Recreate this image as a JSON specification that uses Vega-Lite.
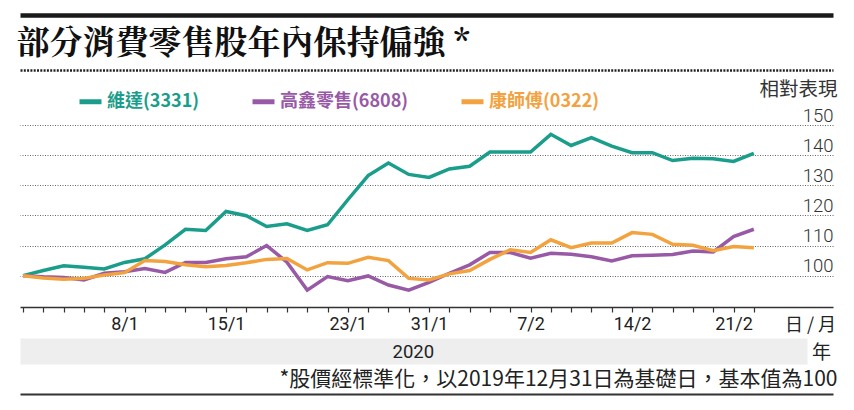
{
  "$schema": "https://vega.github.io/schema/vega-lite/v6.json",
  "width": 813,
  "height": 182,
  "autosize": "none",
  "padding": {"left": 20, "top": 125, "right": 21, "bottom": 103},
  "background": "white",
  "config": {"view": {"stroke": null}, "font": "Noto Sans CJK TC"},
  "data": {"values": [
    {"s":"維達(3331)","i":0,"d":"31/12","v":100},{"s":"維達(3331)","i":1,"d":"2/1","v":101.7},{"s":"維達(3331)","i":2,"d":"3/1","v":103.3},{"s":"維達(3331)","i":3,"d":"6/1","v":102.8},{"s":"維達(3331)","i":4,"d":"7/1","v":102.2},{"s":"維達(3331)","i":5,"d":"8/1","v":104.4},{"s":"維達(3331)","i":6,"d":"9/1","v":105.6},{"s":"維達(3331)","i":7,"d":"10/1","v":110.2},{"s":"維達(3331)","i":8,"d":"13/1","v":115.4},{"s":"維達(3331)","i":9,"d":"14/1","v":115.0},{"s":"維達(3331)","i":10,"d":"15/1","v":121.3},{"s":"維達(3331)","i":11,"d":"16/1","v":119.9},{"s":"維達(3331)","i":12,"d":"17/1","v":116.3},{"s":"維達(3331)","i":13,"d":"20/1","v":117.2},{"s":"維達(3331)","i":14,"d":"21/1","v":115.0},{"s":"維達(3331)","i":15,"d":"22/1","v":116.9},{"s":"維達(3331)","i":16,"d":"23/1","v":125.2},{"s":"維達(3331)","i":17,"d":"24/1","v":133.2},{"s":"維達(3331)","i":18,"d":"29/1","v":137.4},{"s":"維達(3331)","i":19,"d":"30/1","v":133.6},{"s":"維達(3331)","i":20,"d":"31/1","v":132.6},{"s":"維達(3331)","i":21,"d":"3/2","v":135.4},{"s":"維達(3331)","i":22,"d":"4/2","v":136.3},{"s":"維達(3331)","i":23,"d":"5/2","v":141.0},{"s":"維達(3331)","i":24,"d":"6/2","v":141.0},{"s":"維達(3331)","i":25,"d":"7/2","v":141.0},{"s":"維達(3331)","i":26,"d":"10/2","v":146.9},{"s":"維達(3331)","i":27,"d":"11/2","v":143.2},{"s":"維達(3331)","i":28,"d":"12/2","v":145.8},{"s":"維達(3331)","i":29,"d":"13/2","v":143.0},{"s":"維達(3331)","i":30,"d":"14/2","v":140.8},{"s":"維達(3331)","i":31,"d":"17/2","v":140.8},{"s":"維達(3331)","i":32,"d":"18/2","v":138.2},{"s":"維達(3331)","i":33,"d":"19/2","v":139.0},{"s":"維達(3331)","i":34,"d":"20/2","v":138.8},{"s":"維達(3331)","i":35,"d":"21/2","v":137.9},{"s":"維達(3331)","i":36,"d":"24/2","v":140.6},
    {"s":"高鑫零售(6808)","i":0,"d":"31/12","v":100},{"s":"高鑫零售(6808)","i":1,"d":"2/1","v":99.6},{"s":"高鑫零售(6808)","i":2,"d":"3/1","v":99.4},{"s":"高鑫零售(6808)","i":3,"d":"6/1","v":98.6},{"s":"高鑫零售(6808)","i":4,"d":"7/1","v":100.8},{"s":"高鑫零售(6808)","i":5,"d":"8/1","v":101.3},{"s":"高鑫零售(6808)","i":6,"d":"9/1","v":102.4},{"s":"高鑫零售(6808)","i":7,"d":"10/1","v":101.1},{"s":"高鑫零售(6808)","i":8,"d":"13/1","v":104.4},{"s":"高鑫零售(6808)","i":9,"d":"14/1","v":104.4},{"s":"高鑫零售(6808)","i":10,"d":"15/1","v":105.6},{"s":"高鑫零售(6808)","i":11,"d":"16/1","v":106.3},{"s":"高鑫零售(6808)","i":12,"d":"17/1","v":110.0},{"s":"高鑫零售(6808)","i":13,"d":"20/1","v":104.5},{"s":"高鑫零售(6808)","i":14,"d":"21/1","v":95.2},{"s":"高鑫零售(6808)","i":15,"d":"22/1","v":99.7},{"s":"高鑫零售(6808)","i":16,"d":"23/1","v":98.3},{"s":"高鑫零售(6808)","i":17,"d":"24/1","v":99.9},{"s":"高鑫零售(6808)","i":18,"d":"29/1","v":96.9},{"s":"高鑫零售(6808)","i":19,"d":"30/1","v":95.2},{"s":"高鑫零售(6808)","i":20,"d":"31/1","v":97.8},{"s":"高鑫零售(6808)","i":21,"d":"3/2","v":100.8},{"s":"高鑫零售(6808)","i":22,"d":"4/2","v":103.6},{"s":"高鑫零售(6808)","i":23,"d":"5/2","v":107.7},{"s":"高鑫零售(6808)","i":24,"d":"6/2","v":107.7},{"s":"高鑫零售(6808)","i":25,"d":"7/2","v":105.8},{"s":"高鑫零售(6808)","i":26,"d":"10/2","v":107.4},{"s":"高鑫零售(6808)","i":27,"d":"11/2","v":107.1},{"s":"高鑫零售(6808)","i":28,"d":"12/2","v":106.3},{"s":"高鑫零售(6808)","i":29,"d":"13/2","v":104.9},{"s":"高鑫零售(6808)","i":30,"d":"14/2","v":106.6},{"s":"高鑫零售(6808)","i":31,"d":"17/2","v":106.8},{"s":"高鑫零售(6808)","i":32,"d":"18/2","v":107.0},{"s":"高鑫零售(6808)","i":33,"d":"19/2","v":108.2},{"s":"高鑫零售(6808)","i":34,"d":"20/2","v":107.9},{"s":"高鑫零售(6808)","i":35,"d":"21/2","v":113.0},{"s":"高鑫零售(6808)","i":36,"d":"24/2","v":115.4},
    {"s":"康師傅(0322)","i":0,"d":"31/12","v":100},{"s":"康師傅(0322)","i":1,"d":"2/1","v":99.2},{"s":"康師傅(0322)","i":2,"d":"3/1","v":98.8},{"s":"康師傅(0322)","i":3,"d":"6/1","v":99.1},{"s":"康師傅(0322)","i":4,"d":"7/1","v":100.2},{"s":"康師傅(0322)","i":5,"d":"8/1","v":101.0},{"s":"康師傅(0322)","i":6,"d":"9/1","v":105.0},{"s":"康師傅(0322)","i":7,"d":"10/1","v":104.7},{"s":"康師傅(0322)","i":8,"d":"13/1","v":103.6},{"s":"康師傅(0322)","i":9,"d":"14/1","v":103.0},{"s":"康師傅(0322)","i":10,"d":"15/1","v":103.4},{"s":"康師傅(0322)","i":11,"d":"16/1","v":104.3},{"s":"康師傅(0322)","i":12,"d":"17/1","v":105.4},{"s":"康師傅(0322)","i":13,"d":"20/1","v":105.7},{"s":"康師傅(0322)","i":14,"d":"21/1","v":101.9},{"s":"康師傅(0322)","i":15,"d":"22/1","v":104.3},{"s":"康師傅(0322)","i":16,"d":"23/1","v":104.1},{"s":"康師傅(0322)","i":17,"d":"24/1","v":106.1},{"s":"康師傅(0322)","i":18,"d":"29/1","v":105.0},{"s":"康師傅(0322)","i":19,"d":"30/1","v":99.1},{"s":"康師傅(0322)","i":20,"d":"31/1","v":98.6},{"s":"康師傅(0322)","i":21,"d":"3/2","v":100.6},{"s":"康師傅(0322)","i":22,"d":"4/2","v":101.7},{"s":"康師傅(0322)","i":23,"d":"5/2","v":105.4},{"s":"康師傅(0322)","i":24,"d":"6/2","v":108.6},{"s":"康師傅(0322)","i":25,"d":"7/2","v":107.7},{"s":"康師傅(0322)","i":26,"d":"10/2","v":111.9},{"s":"康師傅(0322)","i":27,"d":"11/2","v":109.3},{"s":"康師傅(0322)","i":28,"d":"12/2","v":110.8},{"s":"康師傅(0322)","i":29,"d":"13/2","v":110.8},{"s":"康師傅(0322)","i":30,"d":"14/2","v":114.3},{"s":"康師傅(0322)","i":31,"d":"17/2","v":113.7},{"s":"康師傅(0322)","i":32,"d":"18/2","v":110.4},{"s":"康師傅(0322)","i":33,"d":"19/2","v":110.1},{"s":"康師傅(0322)","i":34,"d":"20/2","v":108.3},{"s":"康師傅(0322)","i":35,"d":"21/2","v":109.7},{"s":"康師傅(0322)","i":36,"d":"24/2","v":109.3}
  ]},
  "resolve": {"axis": {"x": "independent"}},
  "layer": [
    {
      "mark": {"type": "point", "opacity": 0},
      "encoding": {
        "x": {"field": "i", "type": "quantitative",
          "axis": {"orient": "bottom", "offset": 44, "domainWidth": 26, "domainColor": "#eeeeee", "domainCap": "butt", "domainDash": [787, 300], "ticks": false, "labels": false, "grid": false, "title": null, "zindex": 0}}
      }
    },
    {
      "mark": {"type": "line", "strokeWidth": 3.5},
      "encoding": {
        "x": {"field": "i", "type": "quantitative",
          "scale": {"domain": [-0.15, 39.9], "nice": false, "zero": false},
          "axis": {"orient": "bottom", "values": [0,1,2,3,4,5,6,7,8,9,10,11,12,13,14,15,16,17,18,19,20,21,22,23,24,25,26,27,28,29,30,31,32,33,34,35,36],
            "labelExpr": "datum.value==5?'8/1':datum.value==10?'15/1':datum.value==16?'23/1':datum.value==20?'31/1':datum.value==25?'7/2':datum.value==30?'14/2':datum.value==35?'21/2':''",
            "labelFont": "Roboto", "labelFontSize": 18, "labelColor": "#222", "labelPadding": 3, "labelOverlap": false, "labelFlush": false,
            "tickSize": 5, "tickColor": "#333", "tickWidth": 1.2, "domainColor": "#333", "domainWidth": 1.5, "grid": false,
            "title": "日 / 月", "titleX": 790, "titleY": 18, "titleBaseline": "middle", "titleAlign": "center", "titleFontSize": 18, "titleFontWeight": "normal", "titleColor": "#222"}},
        "y": {"field": "v", "type": "quantitative",
          "scale": {"domain": [89.6, 150], "nice": false, "zero": false},
          "axis": {"orient": "right", "values": [100,110,120,130,140,150], "grid": true, "gridColor": "#666", "gridDash": [1, 1.5], "gridWidth": 1,
            "domain": false, "ticks": false, "tickSize": 0, "labelAlign": "right", "labelBaseline": "alphabetic", "labelPadding": 0, "labelOffset": -4,
            "labelFont": "Roboto", "labelFontWeight": 300, "labelFontSize": 18.5, "labelColor": "#333",
            "title": "相對表現", "titleAngle": 0, "titleAlign": "right", "titleBaseline": "middle", "titleX": 4, "titleY": -36, "titleFontSize": 19.5, "titleFontWeight": "normal", "titleColor": "#333"}},
        "color": {"field": "s", "type": "nominal",
          "scale": {"domain": ["維達(3331)", "高鑫零售(6808)", "康師傅(0322)"], "range": ["#1a9e8b", "#985aa6", "#f2a23e"]},
          "legend": {"orient": "none", "legendX": 57, "legendY": -37, "direction": "horizontal", "title": null,
            "symbolType": "stroke", "symbolSize": 484, "symbolStrokeWidth": 5, "labelFont": "Noto Sans CJK TC", "labelFontSize": 18, "labelFontWeight": "bold",
            "labelOffset": 3, "columnPadding": 42, "padding": 0, "labelLimit": 300,
            "encode": {"labels": {"update": {"fill": {"scale": "color", "field": "value"}}}}}}
      }
    },
    {
      "mark": {"type": "point", "opacity": 0},
      "encoding": {
        "x": {"field": "i", "type": "quantitative",
          "axis": {"orient": "bottom", "offset": 44, "domain": false, "ticks": false, "tickSize": 0, "grid": false, "zindex": 2,
            "values": [19.2], "labelExpr": "'2020'", "labelBaseline": "middle", "labelPadding": 0, "labelFont": "Roboto", "labelFontSize": 18.5, "labelColor": "#222", "labelFlush": false,
            "title": "年", "titleX": 801, "titleY": 1, "titleAlign": "center", "titleBaseline": "middle", "titleFontSize": 19, "titleFontWeight": "normal", "titleColor": "#222"}}
      }
    },
    {
      "mark": {"type": "point", "opacity": 0},
      "encoding": {
        "x": {"field": "i", "type": "quantitative",
          "axis": {"orient": "top", "offset": 110, "domainWidth": 4.5, "domainColor": "#1a1a1a", "ticks": false, "labels": false, "grid": false,
            "title": "部分消費零售股年內保持偏強 *", "titleX": -4, "titleY": 28, "titleAlign": "left", "titleBaseline": "middle",
            "titleFont": "Noto Serif CJK TC, Noto Sans CJK TC", "titleFontSize": 33, "titleFontWeight": "bold", "titleColor": "#111"}}
      }
    },
    {
      "mark": {"type": "point", "opacity": 0},
      "encoding": {
        "x": {"field": "i", "type": "quantitative",
          "axis": {"orient": "top", "offset": 55, "domainWidth": 2.5, "domainColor": "#222", "domainDash": [2, 1.3], "ticks": false, "labels": false, "grid": false, "title": null}}
      }
    },
    {
      "mark": {"type": "point", "opacity": 0},
      "encoding": {
        "x": {"field": "i", "type": "quantitative",
          "axis": {"orient": "bottom", "offset": 87, "domainWidth": 2, "domainColor": "#333", "ticks": false, "labels": false, "grid": false,
            "title": "*股價經標準化，以2019年12月31日為基礎日，基本值為100", "titleX": 817, "titleY": -15, "titleAlign": "right", "titleBaseline": "middle",
            "titleFontSize": 21, "titleFontWeight": "normal", "titleColor": "#222"}}
      }
    }
  ]
}
